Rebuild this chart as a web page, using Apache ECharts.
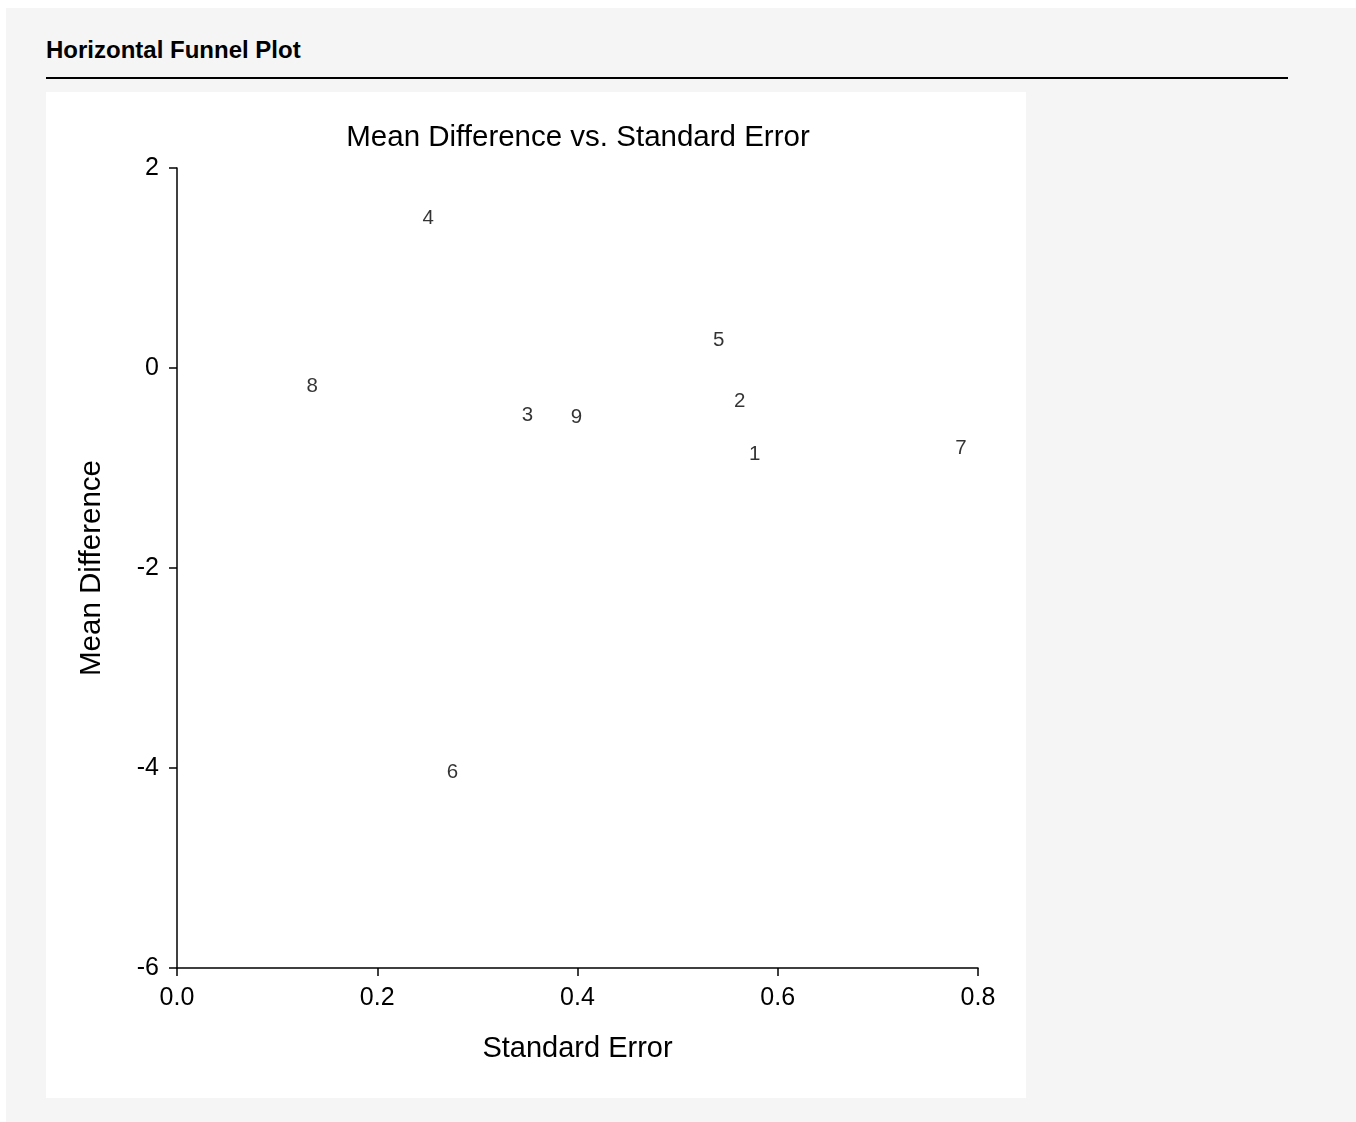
<!DOCTYPE html>
<html>
<head>
<meta charset="utf-8">
<script src="https://cdn.jsdelivr.net/npm/echarts@6/dist/echarts.min.js"></script>
<style>
    html, body { margin: 0; padding: 0; background: #fff; }
    .page { position: absolute; left: 6px; top: 8px; width: 1350px; height: 1114px; background: #f5f5f5; }
    .heading { position: absolute; left: 40px; top: 28px; font: bold 24px "Liberation Sans", Arial, sans-serif; color: #000; }
    .rule { position: absolute; left: 40px; top: 69px; width: 1242px; height: 2px; background: #000; }
    .content { position: absolute; left: 40px; top: 84px; width: 980px; height: 1006px; background: #fff; }
</style>
</head>
<body>
<div class="page">
    <div class="heading">Horizontal Funnel Plot</div>
    <div class="rule"></div>
    <div class="content" id="chart"></div>
</div>
<script>
// study number, standard error, mean difference
const studies = ['1', '2', '3', '4', '5', '6', '7', '8', '9']
const stdError = [0.577, 0.562, 0.350, 0.251, 0.541, 0.275, 0.783, 0.135, 0.399]
const meanDiff = [-0.86, -0.33, -0.47, 1.50, 0.28, -4.04, -0.80, -0.18, -0.49]

const xTicks = [0, 0.2, 0.4, 0.6, 0.8]
const yTicks = [-6, -4, -2, 0, 2]

const font = '"Liberation Sans", Arial, sans-serif'
const points = studies.map((s, i) => ({ name: s, value: [stdError[i], meanDiff[i]] }))

const chart = echarts.init(document.getElementById('chart'))
chart.setOption({
    animation: false,
    title: {
        text: 'Mean Difference vs. Standard Error',
        left: 527,
        textAlign: 'center',
        top: 26,
        textStyle: { fontFamily: font, fontSize: 29.5, fontWeight: 'normal', color: '#000' }
    },
    grid: { left: 131, top: 76, width: 801, height: 800 },
    xAxis: {
        type: 'value',
        min: xTicks[0],
        max: xTicks[xTicks.length - 1],
        interval: 0.2,
        name: 'Standard Error',
        nameLocation: 'middle',
        nameGap: 66,
        nameTextStyle: { fontFamily: font, fontSize: 29, color: '#000' },
        axisLine: { show: true, onZero: false, lineStyle: { color: '#000', width: 1.5 } },
        axisTick: { show: true, length: 8, lineStyle: { color: '#000', width: 1.5 } },
        axisLabel: { margin: 18, fontFamily: font, fontSize: 25, color: '#000', formatter: v => v.toFixed(1) },
        splitLine: { show: false }
    },
    yAxis: {
        type: 'value',
        min: yTicks[0],
        max: yTicks[yTicks.length - 1],
        interval: 2,
        name: 'Mean Difference',
        nameLocation: 'middle',
        nameGap: 70,
        nameTextStyle: { fontFamily: font, fontSize: 29.5, color: '#000' },
        axisLine: { show: true, onZero: false, lineStyle: { color: '#000', width: 1.5 } },
        axisTick: { show: true, length: 8, lineStyle: { color: '#000', width: 1.5 } },
        axisLabel: { margin: 18, fontFamily: font, fontSize: 25, color: '#000' },
        splitLine: { show: false }
    },
    series: [
        {
            type: 'scatter',
            symbolSize: 1,
            itemStyle: { color: 'rgba(0,0,0,0)' },
            label: {
                show: true,
                position: 'inside',
                formatter: p => p.name,
                fontFamily: font,
                fontSize: 20.5,
                color: '#000',
                textBorderWidth: 0
            },
            data: points
        }
    ]
})
</script>
</body>
</html>
